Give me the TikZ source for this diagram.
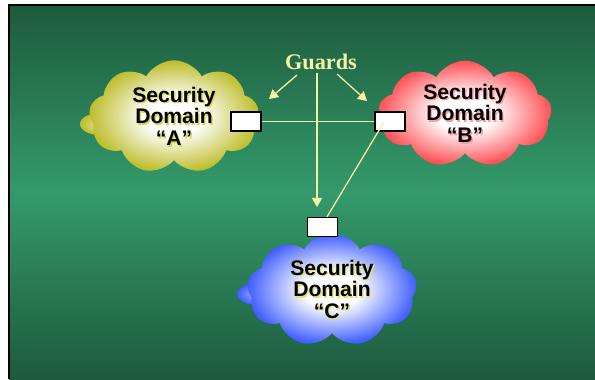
\documentclass[tikz,border=0pt]{standalone}
\usepackage{fontspec}
\setmainfont{Liberation Serif}
\setsansfont{Liberation Sans}
\usetikzlibrary{calc,positioning,shapes,arrows}
\definecolor{bgdark}{HTML}{1D5A3C}
\definecolor{bglight}{HTML}{349A6B}
\definecolor{guardcol}{HTML}{F6F2A6}
\definecolor{domA}{HTML}{BDBD2A}
\definecolor{domB}{HTML}{FF4F55}
\definecolor{domC}{HTML}{3C5CFF}
\definecolor{shA}{HTML}{D8D850}
\definecolor{shB}{HTML}{F7A0A8}
\definecolor{shC}{HTML}{E6E070}
\pgfdeclareradialshading{softA}{\pgfpoint{0bp}{0bp}}{color(0bp)=(white); color(8bp)=(white); color(25bp)=(domA); color(50bp)=(domA)}
\pgfdeclareradialshading{softB}{\pgfpoint{0bp}{0bp}}{color(0bp)=(white); color(8bp)=(white); color(25bp)=(domB); color(50bp)=(domB)}
\pgfdeclareradialshading{softC}{\pgfpoint{0bp}{0bp}}{color(0bp)=(white); color(8bp)=(white); color(25bp)=(domC); color(50bp)=(domC)}
\tikzstyle{dom}=[shape=cloud, cloud puffs=9, cloud puff arc=120, cloud ignores aspect, inner sep=0pt, font=\sffamily\bfseries\fontsize{18}{18.5}\selectfont, align=center, text=black]
\tikzstyle{grd}=[shape=rectangle, draw=black, fill=white, line width=1.2pt, minimum width=0.9cm, minimum height=0.57cm, inner sep=0pt]
\tikzstyle{lnk}=[draw=guardcol, line width=1.1pt]
\newcommand{\shd}[2]{\leavevmode\rlap{\hspace{1.2pt}\raisebox{-1.2pt}{\textcolor{#1}{#2}}}#2}

\begin{document}
\begin{tikzpicture}[x=0.03cm,y=-0.03cm]
\useasboundingbox (0,0) rectangle (595,379);
\shade[top color=bgdark, bottom color=bgdark, middle color=bglight] (9,5) rectangle (595,379);
\draw[line width=1.6pt] (9,379) -- (9,5) -- (595,5);

% side puffs
\shade[inner color=domA!45!white, outer color=domA] (100,124) ellipse (20 and 11);
\shade[inner color=domC!45!white, outer color=domC] (257,294) ellipse (20 and 11);

\node (dA) [dom,shading=softA,minimum width=5.1cm,minimum height=3.4cm] at (174,117) {\shd{shA}{Security}\\\shd{shA}{Domain}\\\shd{shA}{``A''}};
\node (dB) [dom,shading=softB,minimum width=5.2cm,minimum height=3.2cm] at (465,114) {\shd{shB}{Security}\\\shd{shB}{Domain}\\\shd{shB}{``B''}};
\node (dC) [dom,shading=softC,minimum width=5.1cm,minimum height=3.4cm] at (332,290) {\shd{shC}{Security}\\\shd{shC}{Domain}\\\shd{shC}{``C''}};

\node (gA) [grd] at (246,121.5) {};
\node (gB) [grd] at (390,121.5) {};
\node (gC) [grd] at (322.5,227) {};

\node (guards) [font=\bfseries\fontsize{19}{19}\selectfont, text=guardcol] at (321,62) {Guards};

\coordinate (sA) at (297,75);
\coordinate (sM) at (317,73);
\coordinate (sB) at (337,74);
\coordinate (tA) at (269,99);
\coordinate (tM) at (317,207);
\coordinate (tB) at (367,101);
\coordinate (inB) at (384,122);

\draw[lnk] (gA.east) -- (gB.west);
\draw[lnk] (inB) -- ($(gC.north)+(4.5,0)$);
\draw[lnk,-triangle 60] (sA) -- (tA);
\draw[lnk,-triangle 60] (sB) -- (tB);
\draw[lnk,-triangle 60] (sM) -- (tM);

\end{tikzpicture}
\end{document}
